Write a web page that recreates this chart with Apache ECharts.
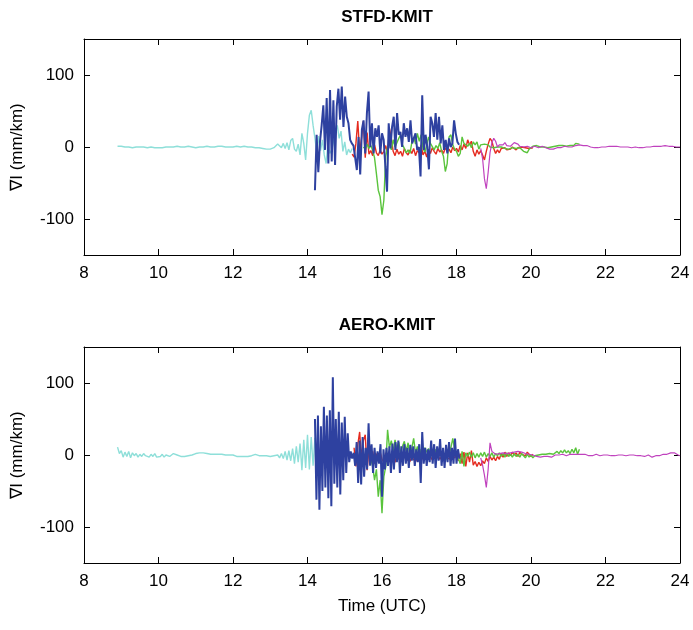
<!DOCTYPE html>
<html><head><meta charset="utf-8">
<script src="https://cdn.jsdelivr.net/npm/echarts@6/dist/echarts.min.js"></script>
<style>html,body{margin:0;padding:0;background:#fff}#c{width:693px;height:630px}</style>
</head><body><div id="c"></div>
<script>
const panelTitles = ['STFD-KMIT', 'AERO-KMIT'];
const yAxisName = '\u2207I (mm/km)';
const xAxisName = 'Time (UTC)';
const xTicks = [8, 10, 12, 14, 16, 18, 20, 22, 24];
const yTicks = [-100, 0, 100];

// ---------- top panel (STFD-KMIT) ----------
const cyanTopStart = 8.9, cyanTopStep = 0.05;
const cyanTop = [1,0,1,-1,0,1,0,0,-1,0, 0,1,0,-1,0,0,-1,0,0,-1, -1,0,-1,0,-1,0,0,-1,0,-1, 0,0,1,0,0,1,0,0,1,0,
  0,0,-1,0,0,-1,0,0,1,1, 0,1,0,0,1,0,1,1,0,1, 0,1,0,0,1,1,0,0,1,0, 0,-1,0,-1,-1,0,-1,-1,-2,
  -2,-3,-3,-3,-2,-1,1,4,2,-1, 5,-2,6,-4,9,12,-3,-6,4,-11, 19,5,-18,19,44,51,30,12,-8,15,
  -5,10,-11,-23,5,-9,-4,8,20,30, 12,22,-6,7,-11,-3,-8,-2];
const blueTopStart = 14.2, blueTopStep = 0.045;
const blueTop = [-60,17,-35,7,30,58,-4,68,-23,79, -20,65,-25,56,81,38,84,28,70,42, 33,10,5,2,0,-32,14,-38,24,37,
  -9,47,77,0,33,-9,26,14,30,-9, 19,10,-27,-62,33,-2,28,42,-4,47, 17,21,0,33,14,26,7,37,5,12,
  19,-4,0,-41,72,-4,17,0,-31,42, 33,14,47,10,42,5,30,-4,10,-9, 12,0,5,37,19,7,3];
const redTopStart = 15.2, redTopStep = 0.05;
const redTop = [-10,-14,5,36,-8,12,36,-15,20,-10, -5,-12,3,-8,-12,-4,-10,-6,2,-9, 26,12,-6,-12,-3,-10,-6,-13,-2,-8,
  -11,-4,-9,-2,-12,-5,-8,3,-11,-6, -14,-3,-9,-1,-6,-10,-2,-7,-4,-9, -1,-6,-3,-8,0,-5,-2,-7,2,-4,
  4,-2,10,3,8,-6,-13,-4,-10,-5, -11,-18,-6,4,12,8,-2,-9,-4,-8, -2,-3,-1,-4,-2,-3,0,-2,-4,-1, -3,0,-2,-1,1,-2,0,-1];
const greenTopStart = 15.5, greenTopStep = 0.05;
const greenTop = [0,-3,4,-2,2,-5,-15,-37,-60,-69, -94,-74,-13,0,8,-4,10,0,6,12, 17,3,-2,-8,-4,-9,6,14,4,19,
  8,17,-2,-7,2,14,5,3,-4,2, -2,6,-6,-13,-34,-23,14,17,3,-3, -6,-13,-9,14,5,4,1,5,-1,7,
  3,7,-3,3,2,4,2,3,0,1, -1,1,0,-2,0,-1,-2,-1,-3,-2, -1,-3,-2,-4,-1,-3,-6,-4,-8,-3,
  -1,1,0,2,1,0,2,0,1,-1, 1,0,2,1,0,2,1,2,3,1, 3,2,4,2,5,3,4];
const magentaTopStart = 18.65, magentaTopStep = 0.05;
const magentaTop = [-2,-16,-44,-58,-35,-8,6,12,8,0, 3,5,3,6,2,0,1,3,6,8, 4,1,-1,0,-1,1,0,-1,0,1,
  0,-1,0,1,0,-1,-2,-3,-4,-3, -2,-1,0,-1,0,1,0,0,1,0, 1,2,2,3,2,2,1,2,1,0,
  0,-1,0,-1,0,0,1,0,1,1, 0,1,0,1,0,0,-1,0,-1,0, 0,-1,-1,0,-2,-1,0,-1,0,0,
  1,0,0,1,0,1,2,1,1,2, 0,1,0,1,0,0,1,0];

// ---------- bottom panel (AERO-KMIT) ----------
const cyanBotStart = 8.9, cyanBotStep = 0.05;
const cyanBot = [11,2,6,-3,4,-2,5,-4,3,-1, 2,-3,1,-2,2,-1,0,-3,1,-2, 2,-3,-1,-2,1,-3,0,1,-2,0,
  2,1,0,-1,-2,-3,-2,-3,-1,-2, 0,1,2,1,3,4,3,4,2,3, 1,2,1,0,1,0,1,-1,0,-1,
  0,1,0,-1,-2,-3,-2,-3,-2,-1, -2,0,-1,0,1,0,-1,0,-1,-2, -1,-3,-2,-3,-1,-3,0,-4,2,-5,
  5,-7,6,-8,9,-12,12,-10,16,-21, 21,-18,28,-20,25,-15,24,-10];
const blueBotStart = 14.2, blueBotStep = 0.04;
const blueBot = [50,-62,55,-76,40,-50,67,-45,55,-60, 62,-71,108,-40,50,-45,60,-55,45,-35, 53,-25,30,-10,5,-5,3,-15,18,-39,
  20,-41,25,-30,10,-20,44,-15,15,-25, 10,-18,5,-12,15,-58,8,-20,10,-15, 12,-25,16,-20,18,-10,20,-25,12,-15,
  15,-12,10,-18,14,-8,12,-15,8,-10, 15,-39,32,-12,10,-15,8,-10,20,-12, 15,-18,12,-8,22,-15,10,-18,14,-10,
  18,-15,10,-12,23,-12,8,-5];
const redBotStart = 15.25, redBotStep = 0.05;
const redBot = [10,-16,14,32,-5,20,28,-21,8,-10, 5,-12,2,-8,4,-6,-10,3,-5,-2, -9,-4,-10,0,-6,-3,-8,-1,-6,-4,
  -9,-2,-7,-4,-9,-2,-8,-3,-6,-1, -5,-2,-7,-3,-5,0,-6,-2,-5,-1, -4,-2,-6,0,-4,-1,-8,2,-12,4,
  -16,3,-10,6,-14,-9,-16,-10,-15,-8, -12,-4,-9,-2,-7,-3,-8,-2,-6,2, -3,4,-2,3,-1,4,0,3,-2,4, 1,3,-1,4,2,-2,1];
const greenBotStart = 15.7, greenBotStep = 0.05;
const greenBot = [-5,-16,-35,-20,-58,-35,-81,-30,-16,35, 10,20,5,21,8,18,2,12,19,5, 17,-3,10,23,3,12,-5,8,2,10,
  4,9,-2,6,0,8,-3,5,-2,3, -9,4,0,10,23,8,2,-5,-12,5, -16,3,-2,4,-3,3,-4,2,-3,3,
  -2,4,-3,2,-2,3,-3,2,-1,3, -2,2,-3,3,-2,1,-3,2,-2,1, -3,2,-1,-4,1,-3,0,-4,-1,-3,
  0,-2,1,3,1,3,2,4,1,3, 5,2,6,3,7,3,6,2,8,3, 10,1,8];
const magentaBotStart = 18.65, magentaBotStep = 0.05;
const magentaBot = [-4,-14,-28,-45,-20,17,5,3,1,3, 2,4,3,5,2,4,3,5,4,2, 5,3,4,5,2,4,1,2,0,-1,
  -2,-1,-3,-1,-2,0,-2,-1,-3,-1, 0,-2,0,-1,1,0,-1,0,1,0, 1,0,1,2,1,0,1,0,-1,0,
  -1,0,1,0,-1,0,0,-1,0,0, -1,0,-1,0,0,-1,0,0,-1,-1, 0,-1,0,-2,-1,-2,-1,-1,-2,-1,
  0,-1,-3,-4,-1,0,-1,0,1,0, 1,2,3,2,3,1,0,-1];

const colors = { cyan: '#8edfd9', blue: '#2e41a0', red: '#e52b1f', green: '#5ac43c', magenta: '#c042be' };

function pts(start, step, vals) {
  return vals.map((v, i) => [Math.round((start + i * step) * 10000) / 10000, v]);
}

const FONT = 'Liberation Sans, Arial, Helvetica, sans-serif';
const LEFT = 84, RIGHT = 13, H = 216;
const tops = [39, 347];

const axLine = { show: true, onZero: false, lineStyle: { color: '#000', width: 1 } };
const axTick = { show: true, inside: true, length: 6, lineStyle: { color: '#000', width: 1 } };

const grids = tops.map(t => ({ left: LEFT, right: RIGHT, top: t, height: H, containLabel: false }));
const xAxes = [], yAxes = [];
tops.forEach((t, g) => {
  xAxes.push({ type: 'value', gridIndex: g, position: 'bottom', min: 8, max: 24, interval: 2,
    axisLine: axLine, axisTick: Object.assign({}, axTick, { customValues: xTicks }), splitLine: { show: false },
    axisLabel: { show: true, color: '#000', fontSize: 17, fontFamily: FONT, margin: 10, customValues: xTicks },
    name: g === 1 ? xAxisName : '', nameLocation: 'middle', nameGap: 35,
    nameTextStyle: { color: '#000', fontSize: 17, fontFamily: FONT } });
  xAxes.push({ type: 'value', gridIndex: g, position: 'top', min: 8, max: 24, interval: 2,
    axisLine: axLine, axisTick: Object.assign({}, axTick, { customValues: xTicks }), splitLine: { show: false }, axisLabel: { show: false } });
  yAxes.push({ type: 'value', gridIndex: g, position: 'left', min: -150, max: 150,
    axisLine: axLine, axisTick: Object.assign({}, axTick, { customValues: yTicks }), splitLine: { show: false },
    axisLabel: { show: true, color: '#000', fontSize: 17, fontFamily: FONT, margin: 10, customValues: yTicks },
    name: yAxisName, nameLocation: 'middle', nameGap: 58, nameRotate: 90,
    nameTextStyle: { color: '#000', fontSize: 17, fontFamily: FONT } });
  yAxes.push({ type: 'value', gridIndex: g, position: 'right', min: -150, max: 150,
    axisLine: axLine, axisTick: Object.assign({}, axTick, { customValues: yTicks }), splitLine: { show: false },
    axisLabel: { show: false } });
});

function line(name, data, color, width, g) {
  return { name, type: 'line', data, xAxisIndex: g * 2, yAxisIndex: g * 2, showSymbol: false, symbol: 'none',
    lineStyle: { color, width }, itemStyle: { color }, clip: true, animation: false, silent: true };
}

const series = [
  line('cyan', pts(cyanTopStart, cyanTopStep, cyanTop), colors.cyan, 1.4, 0),
  line('red', pts(redTopStart, redTopStep, redTop), colors.red, 1.4, 0),
  line('green', pts(greenTopStart, greenTopStep, greenTop), colors.green, 1.4, 0),
  line('blue', pts(blueTopStart, blueTopStep, blueTop), colors.blue, 2, 0),
  line('magenta', pts(magentaTopStart, magentaTopStep, magentaTop), colors.magenta, 1.2, 0),
  line('cyan', pts(cyanBotStart, cyanBotStep, cyanBot), colors.cyan, 1.4, 1),
  line('red', pts(redBotStart, redBotStep, redBot), colors.red, 1.4, 1),
  line('green', pts(greenBotStart, greenBotStep, greenBot), colors.green, 1.4, 1),
  line('blue', pts(blueBotStart, blueBotStep, blueBot), colors.blue, 2, 1),
  line('magenta', pts(magentaBotStart, magentaBotStep, magentaBot), colors.magenta, 1.2, 1)
];

const chart = echarts.init(document.getElementById('c'), null, { renderer: 'canvas' });
chart.setOption({
  backgroundColor: '#fff',
  animation: false,
  title: panelTitles.map((t, i) => ({ text: t, left: 382, top: i === 0 ? 4 : 312, textAlign: 'center',
    textStyle: { fontSize: 17, fontWeight: 'bold', color: '#000', fontFamily: FONT } })),
  grid: grids,
  xAxis: xAxes,
  yAxis: yAxes,
  series
});
</script>
</body></html>
